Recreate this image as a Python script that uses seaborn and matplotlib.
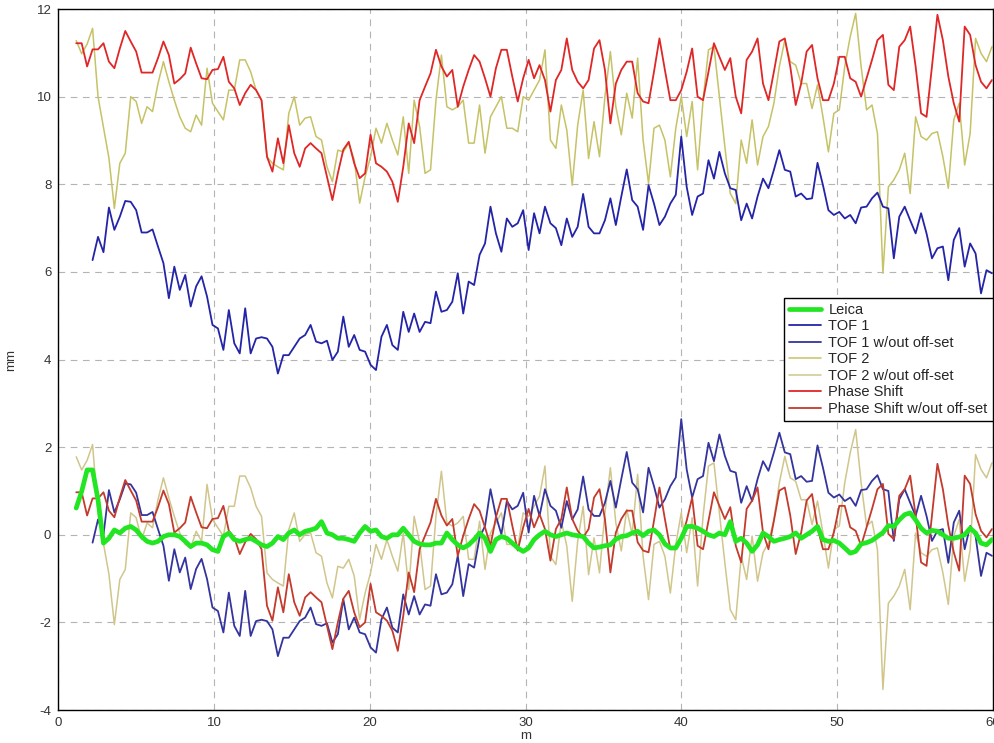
import numpy as np
import pandas as pd
import matplotlib
matplotlib.use("Agg")
import matplotlib.pyplot as plt
import seaborn as sns

# Sampling along the track (m)
X_START = 1.15
X_STEP = 0.35

# Constant off-sets of each scanner relative to the Leica reference (mm)
TOF1_OFFSET = 6.45
TOF2_OFFSET = 9.50
PHASE_OFFSET = 10.25

nan = np.nan

LEICA = [
    0.61, 0.99, 1.48, 1.48, 0.80, -0.19, -0.08, 0.11, 0.04, 0.15, 0.19, 0.11, -0.04, -0.15,
    -0.19, -0.15, -0.04, 0.00, 0.00, -0.04, -0.15, -0.27, -0.19, -0.19, -0.23, -0.34, -0.38,
    -0.04, 0.04, -0.11, -0.15, -0.11, -0.08, -0.15, -0.23, -0.27, -0.19, -0.04, -0.11, 0.04,
    0.11, 0.00, 0.08, 0.11, 0.15, 0.30, 0.04, 0.00, -0.08, -0.08, -0.11, -0.15, 0.04, 0.19,
    0.08, 0.11,
    -0.04, -0.08, 0.00, 0.00, 0.15, 0.00, -0.15, -0.21, -0.23, -0.23, -0.19, -0.19, 0.04,
    -0.11, -0.23, -0.30, -0.23, -0.11, 0.04, -0.08, -0.38, -0.11, -0.04, -0.08, -0.19, -0.30,
    -0.38, -0.30, -0.11, 0.00, 0.08, 0.00, -0.04, 0.00, 0.04, 0.00, -0.02, -0.04, -0.19,
    -0.30, -0.28, -0.25, -0.23, -0.10, -0.04, -0.02, 0.04, 0.08, -0.02, 0.08, 0.11, 0.00,
    -0.21, -0.30, -0.30, -0.08, 0.19,
    0.19, 0.15, 0.08, 0.00, -0.04, 0.04, 0.00, 0.30, -0.15, -0.08, -0.19, -0.38, -0.23, 0.04,
    -0.04, -0.15, -0.11, -0.08, -0.04, 0.04, -0.08, 0.00, 0.08, 0.19, -0.11, -0.15, -0.13,
    -0.19, -0.30, -0.42, -0.38, -0.21, -0.18, -0.13, -0.04, 0.05, 0.21, 0.19, 0.34, 0.46,
    0.50, 0.34, 0.15, 0.04, 0.10, 0.08, 0.00, -0.08, -0.08, -0.05, 0.00, 0.15, 0.04, -0.19,
    -0.23, -0.11,
]

TOF1_RAW = [
    nan, nan, nan, 6.27, 6.80, 6.45, 7.47, 6.96, 7.26, 7.62, 7.60, 7.41, 6.90, 6.90, 6.97,
    6.58, 6.20, 5.40, 6.12, 5.59, 5.93, 5.21, 5.67, 5.90, 5.44, 4.79, 4.71,
    4.22, 5.13, 4.37, 4.14, 5.17, 4.14, 4.48, 4.51, 4.48, 4.29, 3.68, 4.10, 4.10, 4.29, 4.48,
    4.56, 4.79, 4.41, 4.37, 4.43, 3.99, 4.18, 4.98, 4.29, 4.56, 4.22, 4.18, 3.88,
    3.76, 4.52, 4.79, 4.33, 4.22, 5.09, 4.63, 5.05, 4.63, 4.86, 4.83, 5.55, 5.09, 5.13, 5.32,
    5.97, 5.05, 5.78, 5.70, 6.39, 6.65, 7.49, 6.88, 6.46, 7.22, 7.03, 7.11, 7.41, 6.50,
    7.34, 6.88, 7.49, 7.11, 7.00, 6.61, 7.22, 6.80, 7.03, 7.78, 7.03, 6.88, 6.88, 7.18, 7.68,
    7.07, 7.72, 8.34, 7.64, 7.49, 6.96, 7.98, 7.56, 7.07, 7.26, 7.56, 7.76, 9.09,
    7.94, 7.30, 7.72, 7.79, 8.55, 8.13, 8.74, 8.25, 7.91, 7.87, 7.18, 7.56, 7.22, 7.72, 8.13,
    7.91, 8.33, 8.78, 8.33, 8.29, 7.72, 7.79, 7.66, 7.68, 8.49, 7.98, 7.41, 7.30, 7.37,
    7.22, 7.30, 7.11, 7.47, 7.49, 7.68, 7.81, 7.49, 7.45, 6.31, 7.26, 7.49, 7.18, 6.88, 7.34,
    6.88, 6.31, 6.54, 6.58, 5.81, 6.73, 7.00, 6.12, 6.65, 6.42, 5.51, 6.04, 5.97,
]

TOF2_RAW = [
    11.28, 10.98, 11.20, 11.56, 10.00, 9.30, 8.60, 7.45, 8.48, 8.71, 10.00, 9.89, 9.39, 9.77,
    9.66, 10.30, 10.80, 10.34, 9.92, 9.54, 9.28, 9.20, 9.58, 9.35, 10.65, 9.85, 9.66,
    9.47, 10.15, 10.15, 10.84, 10.84, 10.57, 10.15, 9.92, 8.63, 8.48, 8.40, 8.33, 9.62, 10.00,
    9.35, 9.51, 9.54, 9.09, 9.01, 8.40, 8.06, 8.78, 8.74, 8.94, 8.56, 7.57, 8.17, 8.63,
    9.28, 8.94, 9.39, 9.01, 8.67, 9.54, 8.25, 9.92, 9.32, 8.25, 8.33, 9.92, 10.95, 9.77, 9.70,
    9.77, 9.92, 8.94, 8.94, 9.81, 8.71, 9.54, 9.77, 10.00, 9.28, 9.28, 9.20, 10.00, 9.92,
    10.15, 10.38, 11.07, 9.01, 8.82, 9.81, 9.24, 7.98, 9.35, 10.15, 8.59, 9.43, 8.63, 10.00,
    11.03, 9.77, 9.13, 10.08, 9.51, 10.88, 9.01, 8.02, 9.28, 9.35, 9.01, 8.17, 9.28, 10.00,
    9.09, 9.89, 8.33, 9.92, 11.07, 11.14, 10.00, 8.86, 7.79, 7.56, 9.01, 8.48, 9.47, 8.44,
    9.09, 9.32, 9.85, 10.69, 11.29, 10.80, 10.72, 10.30, 10.30, 9.73, 10.27, 9.54, 8.74, 9.62,
    9.70,
    10.69, 11.37, 11.90, 10.69, 9.70, 9.81, 9.16, 5.97, 7.94, 8.10, 8.33, 8.71, 7.79, 9.54,
    9.09, 9.01, 9.16, 9.20, 8.63, 7.91, 9.47, 9.85, 8.44, 9.16, 11.33, 10.99, 10.80, 11.14,
]

PHASE_RAW = [
    11.22, 11.22, 10.69, 11.08, 11.08, 11.22, 10.80, 10.65, 11.10, 11.50, 11.26, 11.03, 10.55,
    10.55, 10.55, 10.88, 11.26, 10.95, 10.30, 10.40, 10.53, 11.12, 10.76, 10.42, 10.40, 10.61,
    10.63,
    10.91, 10.34, 10.19, 9.81, 10.08, 10.27, 10.15, 9.92, 8.63, 8.29, 9.05, 8.48, 9.35, 8.71,
    8.40, 8.82, 8.94, 8.82, 8.71, 8.17, 7.64, 8.25, 8.79, 8.97, 8.48, 8.14, 8.25, 9.13,
    8.48, 8.40, 8.29, 8.06, 7.60, 8.40, 9.39, 8.94, 9.92, 10.23, 10.53, 11.07, 10.69, 10.46,
    10.61, 9.77, 10.23, 10.61, 10.95, 10.80, 10.42, 10.00, 10.65, 11.07, 11.07, 10.46, 9.89,
    10.42, 10.84,
    10.42, 10.72, 10.38, 9.66, 10.38, 10.61, 11.33, 10.61, 10.34, 10.19, 10.38, 11.10, 11.29,
    10.61, 9.39, 10.30, 10.61, 10.80, 10.80, 10.08, 9.89, 9.85, 10.57, 11.33, 10.61, 9.92,
    9.92, 10.15,
    10.57, 11.10, 10.00, 9.92, 10.57, 11.22, 10.91, 10.61, 10.88, 10.00, 9.62, 10.84, 11.03,
    11.33, 10.30, 9.92, 10.57, 11.26, 11.33, 10.69, 9.81, 10.30, 11.03, 11.18, 10.42, 9.92,
    9.92, 10.30, 10.91,
    10.91, 10.42, 10.34, 10.00, 10.42, 10.84, 11.29, 11.41, 10.27, 10.15, 11.14, 11.29, 11.60,
    10.69, 9.62, 9.54, 10.69, 11.87, 11.29, 10.46, 9.85, 9.43, 11.60, 11.41, 10.72, 10.34,
    10.19, 10.38,
]

distance = X_START + X_STEP * np.arange(len(LEICA))
tof1 = np.array(TOF1_RAW)
tof2 = np.array(TOF2_RAW)
phase = np.array(PHASE_RAW)

series = [
    ("Leica", np.array(LEICA), "#22e622", 3.4, 6),
    ("TOF 1", tof1, "#2424a8", 1.3, 3),
    ("TOF 1 w/out off-set", tof1 - TOF1_OFFSET, "#34349e", 1.3, 3),
    ("TOF 2", tof2, "#c6c266", 1.1, 2),
    ("TOF 2 w/out off-set", tof2 - TOF2_OFFSET, "#d0c68c", 1.1, 2),
    ("Phase Shift", phase, "#e02626", 1.3, 4),
    ("Phase Shift w/out off-set", phase - PHASE_OFFSET, "#c43a2c", 1.3, 4),
]

sns.set_style("white")
plt.rcParams["font.family"] = ["Liberation Sans", "DejaVu Sans"]
plt.rcParams["axes.unicode_minus"] = False

fig = plt.figure(figsize=(9.95, 7.43), dpi=100)
ax = fig.add_axes([0.0586, 0.0444, 0.9391, 0.9434])

for label, values, color, lw, z in series:
    df = pd.DataFrame({"m": distance, "mm": values}).dropna()
    sns.lineplot(data=df, x="m", y="mm", ax=ax, color=color, linewidth=lw,
                 label=label, estimator=None, sort=False, zorder=z)

ax.set_xlim(0, 60)
ax.set_ylim(-4, 12)
ax.set_xticks(np.arange(0, 61, 10))
ax.set_yticks(np.arange(-4, 13, 2))
ax.grid(True, color="#b4b4b4", linestyle=(0, (6, 5)), linewidth=0.8)
ax.set_axisbelow(True)
for spine in ax.spines.values():
    spine.set_color("black")
    spine.set_linewidth(1.0)
ax.tick_params(direction="in", length=5, width=0.8, color="black",
               labelsize=9.5, labelcolor="#333333", pad=5,
               top=False, right=False)
ax.set_xlabel("m", fontsize=9.5, color="#333333", labelpad=1)
ax.set_ylabel("mm", fontsize=9.5, color="#333333", labelpad=14)

leg = ax.legend(loc="upper right", bbox_to_anchor=(1.0, 0.588), fontsize=10.5,
                frameon=True, fancybox=False, framealpha=1, edgecolor="black",
                handlelength=2.2, handletextpad=0.5, labelspacing=0.17,
                borderpad=0.35, borderaxespad=0.0)
leg.get_frame().set_linewidth(1.0)

fig.savefig("out.png", dpi=100)
